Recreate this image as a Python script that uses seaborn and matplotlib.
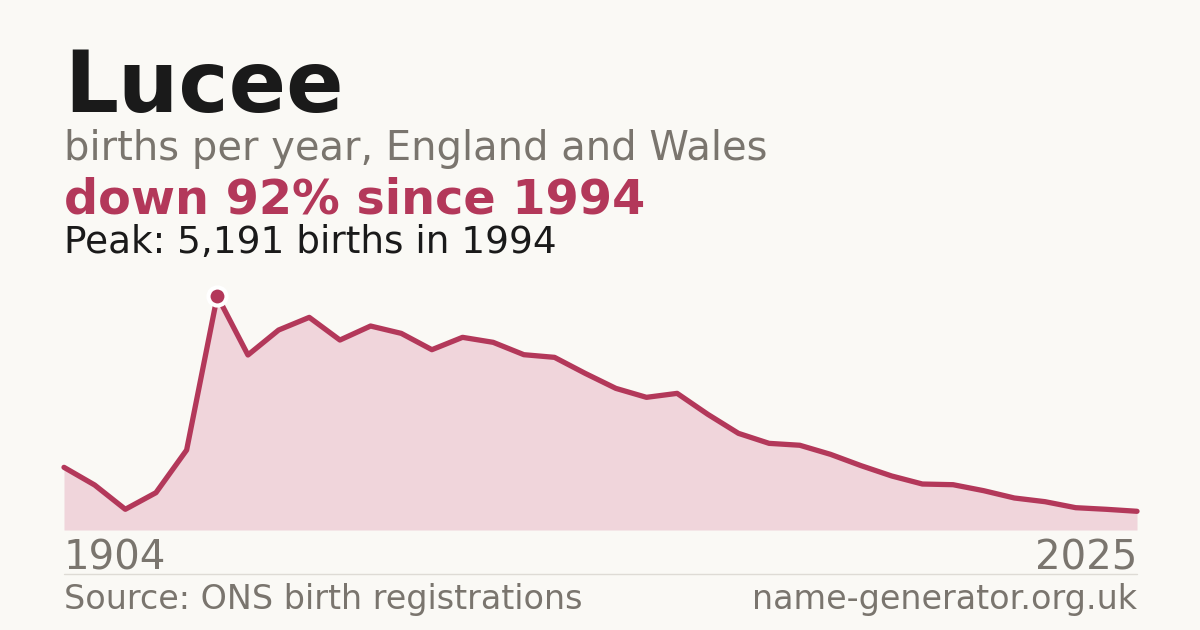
import matplotlib
matplotlib.use("Agg")
import matplotlib.pyplot as plt
import seaborn as sns
import pandas as pd
import numpy as np

# ---- data ----
births = [1390, 998, 459, 828, 1774, 5191, 3882, 4436, 4717, 4214, 4525, 4362,
          4000, 4274, 4163, 3889, 3830, 3475, 3142, 2943, 3031, 2566, 2144, 1922,
          1880, 1679, 1427, 1198, 1020, 1005, 872, 710, 628, 495, 459, 415]
tick_labels = ["1904", "2025"]
peak_value = 5191
peak_year = "1994"
name = "Lucee"
subtitle = "births per year, England and Wales"
headline = "down 92% since 1994"
peak_text = "Peak: 5,191 births in 1994"
source = "Source: ONS birth registrations"
site = "name-generator.org.uk"

BG = "#faf9f5"
RED = "#b3385a"
FILL = "#f0d5db"
GRAY = "#7a756e"
DARK = "#1a1a1a"

df = pd.DataFrame({"pos": np.arange(len(births)), "births": births})

sns.set_theme(style="white")
plt.rcParams["font.family"] = ["DejaVu Sans"]

W, H = 1200, 630
fig = plt.figure(figsize=(12, 6.3), dpi=100, facecolor=BG)

def fy(px):
    return 1 - px / H

ax = fig.add_axes([64 / W, fy(530), (1137 - 64) / W, (530 - 296) / H])
ax.set_facecolor("none")
ax.fill_between(df["pos"], df["births"], 0, color=FILL, lw=0, zorder=1)
sns.lineplot(data=df, x="pos", y="births", ax=ax, color=RED, lw=3.8,
             zorder=2, clip_on=False)
pk = int(np.argmax(births))
ax.plot([pk], [births[pk]], "o", ms=13, color=RED, mec="white", mew=3,
        zorder=3, clip_on=False)
ax.set_xlim(0, len(births) - 1)
ax.set_ylim(0, peak_value)
ax.axis("off")

# ---- texts ----
fig.text(64 / W, fy(112), name, fontsize=61, fontweight="bold", color=DARK, va="baseline")
fig.text(64 / W, fy(160), subtitle, fontsize=28.8, color=GRAY, va="baseline")
fig.text(64 / W, fy(214), headline, fontsize=34.4, fontweight="bold", color=RED, va="baseline")
fig.text(64 / W, fy(253), peak_text, fontsize=26.9, color=DARK, va="baseline")

fig.text(64 / W, fy(570), tick_labels[0], fontsize=29, color=GRAY, va="baseline", ha="left")
fig.text(1137 / W, fy(570), tick_labels[1], fontsize=29, color=GRAY, va="baseline", ha="right")

fig.add_artist(plt.Line2D([64 / W, 1137 / W], [fy(574), fy(574)], color="#dedbd5", lw=1))

fig.text(64 / W, fy(609), source, fontsize=24, color=GRAY, va="baseline", ha="left")
fig.text(1137 / W, fy(609), site, fontsize=24, color=GRAY, va="baseline", ha="right")

fig.savefig("out.png", dpi=100, facecolor=BG)
